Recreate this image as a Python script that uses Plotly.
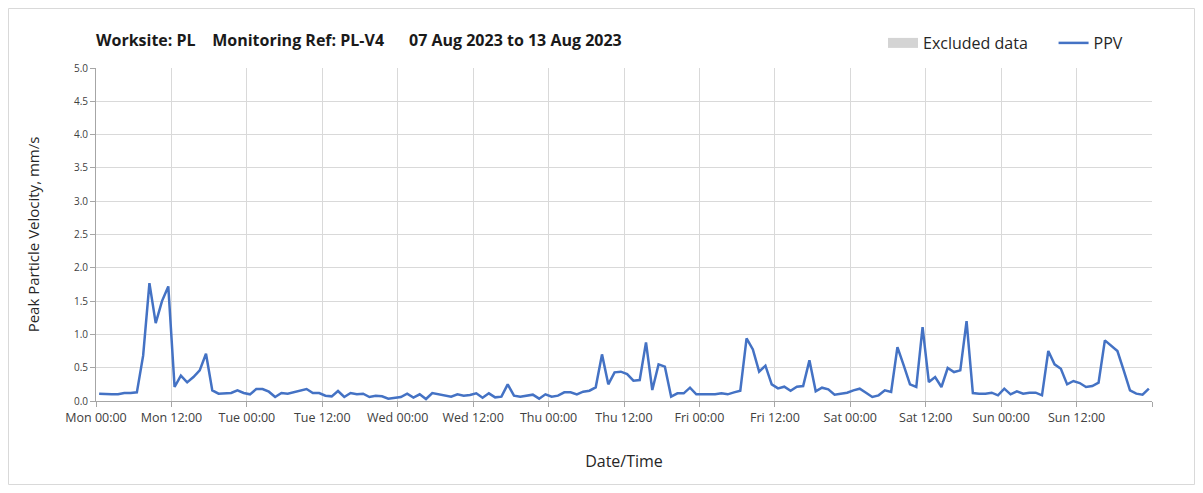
import pandas as pd
import plotly.graph_objects as go

# ---- data ----
start_time = "2023-08-07 00:30"
ppv_values = [
    0.11, 0.10, 0.10, 0.10, 0.12, 0.12, 0.13, 0.68, 1.77, 1.17, 1.50, 1.72,
    0.21, 0.38, 0.28, 0.36, 0.46, 0.71, 0.16, 0.11, 0.12, 0.12, 0.16, 0.12,
    0.10, 0.18, 0.18, 0.14, 0.06, 0.12, 0.11, 0.13, 0.15, 0.18, 0.12, 0.12,
    0.08, 0.07, 0.15, 0.06, 0.12, 0.10, 0.11, 0.06, 0.08, 0.07, 0.035, 0.05,
    0.06, 0.11, 0.05, 0.10, 0.03, 0.12, 0.10, 0.09, 0.065, 0.10, 0.08, 0.09,
    0.115, 0.05, 0.115, 0.055, 0.065, 0.25, 0.08, 0.065, 0.08, 0.095, 0.035, 0.10,
    0.065, 0.08, 0.13, 0.13, 0.10, 0.14, 0.155, 0.205, 0.70, 0.25, 0.43, 0.44,
    0.405, 0.305, 0.315, 0.88, 0.165, 0.55, 0.515, 0.065, 0.115, 0.115, 0.20, 0.10,
    0.10, 0.10, 0.10, 0.115, 0.10, 0.13, 0.155, 0.94, 0.775, 0.44, 0.53, 0.25,
    0.19, 0.215, 0.155, 0.215, 0.225, 0.61, 0.145, 0.20, 0.175, 0.095, 0.11, 0.125,
    0.16, 0.185, 0.125, 0.06, 0.085, 0.16, 0.135, 0.81, 0.535, 0.25, 0.21, 1.11,
    0.285, 0.36, 0.21, 0.495, 0.435, 0.46, 1.20, 0.12, 0.11, 0.11, 0.125, 0.085,
    0.185, 0.10, 0.145, 0.11, 0.125, 0.125, 0.085, 0.75, 0.55, 0.485, 0.25, 0.30,
    0.27, 0.21, 0.225, 0.275, 0.91, 0.835, 0.75, 0.46, 0.16, 0.11, 0.095, 0.185,
]
tick_times = [
    "2023-08-07 00:00", "2023-08-07 12:00", "2023-08-08 00:00", "2023-08-08 12:00",
    "2023-08-09 00:00", "2023-08-09 12:00", "2023-08-10 00:00", "2023-08-10 12:00",
    "2023-08-11 00:00", "2023-08-11 12:00", "2023-08-12 00:00", "2023-08-12 12:00",
    "2023-08-13 00:00", "2023-08-13 12:00", "2023-08-14 00:00",
]
tick_labels = [
    "Mon 00:00", "Mon 12:00", "Tue 00:00", "Tue 12:00", "Wed 00:00", "Wed 12:00",
    "Thu 00:00", "Thu 12:00", "Fri 00:00", "Fri 12:00", "Sat 00:00", "Sat 12:00",
    "Sun 00:00", "Sun 12:00", "",
]
y_ticks = [0.0, 0.5, 1.0, 1.5, 2.0, 2.5, 3.0, 3.5, 4.0, 4.5, 5.0]

times = pd.date_range(start_time, periods=len(ppv_values), freq="h")
time_strs = [t.strftime("%Y-%m-%d %H:%M") for t in times]

FONT = "Open Sans"
W, H = 1187, 477
ML, MT, PW, PH = 88, 60, 1056, 333
MR, MB = W - ML - PW, H - MT - PH

fig = go.Figure()
# legend-only entry for excluded data (no excluded periods in this week)
fig.add_trace(go.Scatter(x=[None], y=[None], mode="lines",
                         name="Excluded data" + "&nbsp;" * 5,
                         line=dict(color="#d4d4d4", width=10), showlegend=True,
                         hoverinfo="skip"))
fig.add_trace(go.Scatter(x=time_strs, y=ppv_values, mode="lines", name="PPV",
                         line=dict(color="#4472C4", width=2.5)))

fig.update_layout(
    width=W, height=H,
    margin=dict(l=ML, r=MR, t=MT, b=MB),
    paper_bgcolor="white", plot_bgcolor="white",
    font=dict(family=FONT, color="#404040"),
    title=dict(
        text="<b>Worksite: PL&nbsp;&nbsp;&nbsp;&nbsp;Monitoring Ref: PL-V4&nbsp;&nbsp;&nbsp;&nbsp;&nbsp;&nbsp;07 Aug 2023 to 13 Aug 2023</b>",
        x=0, xref="paper", xanchor="left",
        y=1 - 32 / H, yref="container", yanchor="middle",
        font=dict(family=FONT, size=16, color="#1a1a1a"),
    ),
    legend=dict(orientation="h", x=(875 - ML) / PW, xanchor="left",
                y=1 + (MT - 35) / PH, yanchor="middle",
                font=dict(family=FONT, size=16, color="#262626"),
                bgcolor="rgba(0,0,0,0)", traceorder="normal"),
    showlegend=True,
)
fig.update_xaxes(
    type="date",
    range=[tick_times[0], tick_times[-1]],
    tickmode="array", tickvals=tick_times, ticktext=tick_labels,
    showgrid=True, gridcolor="#d9d9d9", gridwidth=1,
    showline=True, linecolor="#a6a6a6", linewidth=1,
    ticks="outside", ticklen=5, tickcolor="#a6a6a6",
    tickfont=dict(family=FONT, size=12.5, color="#404040"),
    title=dict(text="Date/Time", font=dict(family=FONT, size=16, color="#262626"), standoff=30),
    zeroline=False, automargin=False,
)
fig.update_yaxes(
    range=[0, 5], tickmode="array", tickvals=y_ticks,
    ticktext=[f"{v:.1f}" for v in y_ticks],
    showgrid=True, gridcolor="#d9d9d9", gridwidth=1,
    showline=True, linecolor="#a6a6a6", linewidth=1,
    ticks="outside", ticklen=5, tickcolor="#a6a6a6",
    tickfont=dict(family=FONT, size=10, color="#404040"),
    title=dict(text="Peak Particle Velocity, mm/s", font=dict(family=FONT, size=15, color="#262626"), standoff=30),
    zeroline=False, automargin=False,
)
# outer frame of the chart
fig.add_shape(type="rect", xref="paper", yref="paper",
              x0=(0.5 - ML) / PW, x1=(W - 0.5 - ML) / PW,
              y0=-(MB - 0.5) / PH, y1=1 + (MT - 0.5) / PH,
              line=dict(color="#d9d9d9", width=1), layer="below")

fig.write_html("out.html")
